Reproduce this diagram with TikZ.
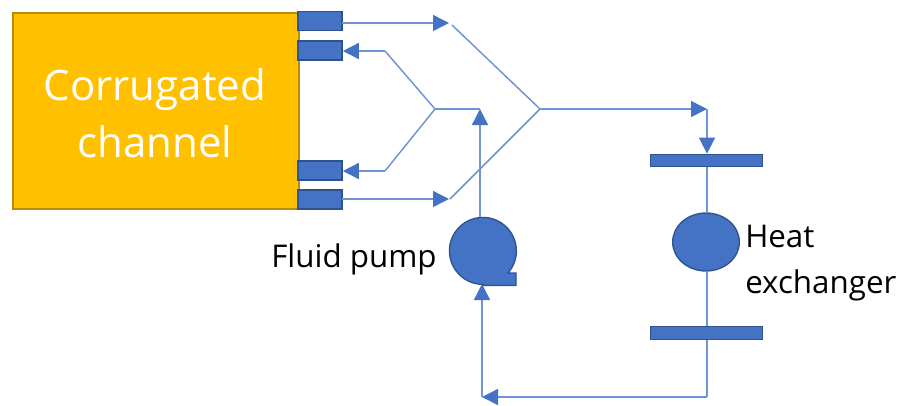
\documentclass[tikz,border=0pt]{standalone}
\usepackage{fontspec}
\setmainfont{Open Sans}
\usetikzlibrary{arrows.meta,shapes.geometric}
\definecolor{fillblue}{HTML}{4472C4}
\definecolor{edgeblue}{HTML}{2F528F}
\definecolor{linkblue}{HTML}{6F94D6}
\definecolor{chanorange}{HTML}{FFC000}
\definecolor{chanedge}{HTML}{B98C0A}
\tikzset{
  x=0.75pt,y=-0.75pt,
  portbox/.style={draw=edgeblue,fill=fillblue,line width=1.2pt,minimum width=33pt,minimum height=14.5pt,inner sep=0pt},
  barbox/.style={draw=edgeblue,fill=fillblue,line width=0.8pt,minimum width=84pt,minimum height=9.5pt,inner sep=0pt},
  link/.style={draw=linkblue,line width=1.1pt},
  flow/.style={link,-{Triangle[length=12pt,width=12pt,color=fillblue]}},
  lbl/.style={text=black,font=\fontsize{23.5pt}{35pt}\selectfont,inner sep=0pt,align=left,anchor=west},
}
\begin{document}
\begin{tikzpicture}
\useasboundingbox (0,0) rectangle (905,405);
\node[draw=chanedge,fill=chanorange,line width=1.5pt,minimum width=215pt,minimum height=147pt,inner sep=0pt,anchor=north west] (chan) at (11.5,11.5) {};
\node[text=white,align=center,font=\fontsize{31.5pt}{43pt}\selectfont,inner sep=0pt] (chantext) at (155,113) {Corrugated\\channel};
\node[portbox] (p1) at (320,21) {};
\node[portbox] (p2) at (320,50.5) {};
\node[portbox] (p3) at (320,170.5) {};
\node[portbox] (p4) at (320,199.5) {};
\coordinate (mergeA) at (449,23);
\coordinate (mergeAs) at (452,25);
\coordinate (mergeB) at (449,199);
\coordinate (mergeBs) at (450,199);
\coordinate (merge) at (540,109);
\coordinate (fork) at (435,109);
\coordinate (forkU) at (385,51);
\coordinate (forkD) at (385,171);
\coordinate (top) at (480,109);
\coordinate (hxin) at (707,109);
\coordinate (retR) at (707,397);
\coordinate (retL) at (482,397);
\node[barbox] (barT) at (706.5,160.5) {};
\node[barbox] (barB) at (706.5,333) {};
\node[draw=edgeblue,fill=fillblue,line width=1pt,ellipse,minimum width=50pt,minimum height=43.5pt,inner sep=0pt] (hx) at (706,242) {};
\filldraw[draw=edgeblue,fill=fillblue,line width=1pt]
  (508,273) arc[start angle=-41.4,end angle=270,radius=25.1pt] -- (482.5,285.5) -- (516,285.5) -- (516,273) -- cycle;
\coordinate (pumpT) at (480,217);
\coordinate (pumpB) at (482,284);
\path[flow] (342,23) -- (mergeA);
\path[flow] (342,199) -- (mergeB);
\draw[link] (mergeAs) -- (merge) -- (mergeBs);
\path[flow] (merge) -- (hxin);
\path[flow] (hxin) -- (barT.north -| hxin);
\draw[link] (barT.south -| hxin) -- (hx.north -| hxin);
\draw[link] (hx.south -| hxin) -- (barB.north -| hxin);
\draw[link] (barB.south -| hxin) -- (retR);
\path[flow] (retR) -- (retL);
\path[flow] (retL) -- (pumpB);
\path[flow] (pumpT) -- (top);
\draw[link] (top) -- (fork);
\draw[link] (fork) -- (forkU);
\draw[link] (fork) -- (forkD);
\path[flow] (forkU) -- (p2.east |- forkU);
\path[flow] (forkD) -- (p3.east |- forkD);
\node[lbl] (fp) at (271,259) {Fluid pump};
\node[lbl] (he) at (745,263) {Heat\\exchanger};
\end{tikzpicture}
\end{document}
